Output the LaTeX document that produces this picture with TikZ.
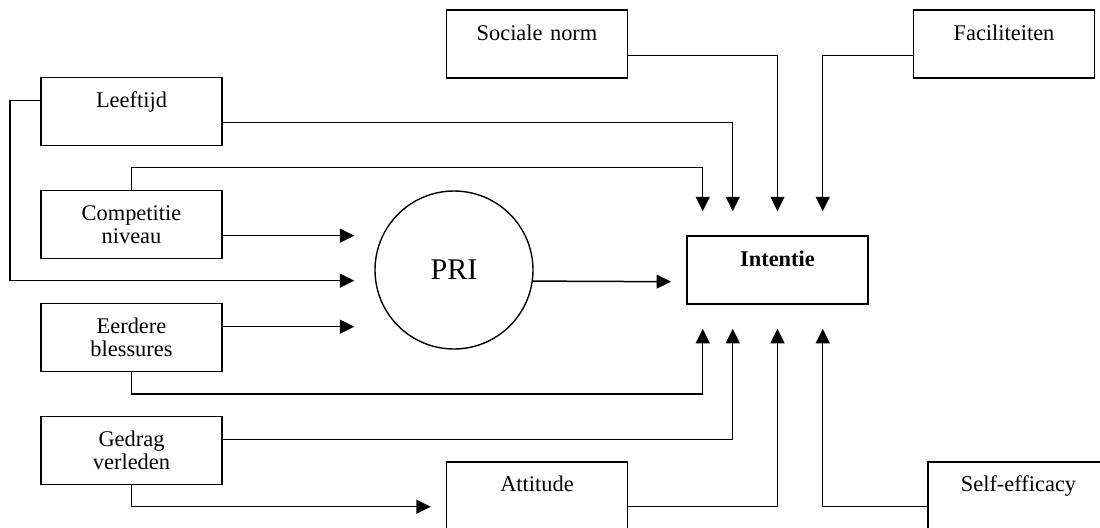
\documentclass[tikz,border=0pt]{standalone}
\usepackage{fontspec}
\setmainfont{Liberation Serif}
\usetikzlibrary{arrows.meta,positioning,calc,shapes}
\tikzstyle{box} = [rectangle, draw=black, line width=0.85pt, minimum width=90.5pt, minimum height=34pt, text width=86pt, inner sep=0pt, align=center, font=\fontsize{11.2}{11.7}\selectfont]
\tikzstyle{bubble} = [circle, draw=black, line width=0.7pt, minimum size=79pt, inner sep=0pt, font=\fontsize{15}{17}\selectfont]
\tikzstyle{arrow} = [line width=0.75pt, -{Triangle[length=7.2pt,width=7pt]}]

\begin{document}
\begin{tikzpicture}[node distance=56.5pt]
\useasboundingbox (0,0) rectangle (550pt,-263.5pt);

% left column
\node (leeftijd) [box] at (65.75pt,-55.75pt) {Leeftijd\\~};
\node (competitie) [box, below of=leeftijd] {Competitie\\niveau};
\node (eerdere) [box, below of=competitie] {Eerdere\\blessures};
\node (gedrag) [box, below of=eerdere] {Gedrag\\verleden};

\node (pri) [bubble] at (227pt,-135pt) {PRI};
\node (intentie) [box] at (388.75pt,-135pt) {\textbf{Intentie}\\~};

% top and bottom row
\node (sociale) [box] at (268.5pt,-22pt) {Sociale norm\\~};
\node (faciliteiten) [box] at (502pt,-22pt) {Faciliteiten\\~};
\node (attitude) [box] at (268.5pt,-247.85pt) {Attitude\\~};
\node (selfeff) [box] at (509.25pt,-247.85pt) {Self-efficacy\\~};

% arrow tips round Intentie and PRI
\coordinate (t1) at ([xshift=-37.4pt,yshift=12pt]intentie.north);
\coordinate (t2) at ([xshift=-22.4pt,yshift=12pt]intentie.north);
\coordinate (t3) at ([yshift=12pt]intentie.north);
\coordinate (t4) at ([xshift=22.6pt,yshift=12pt]intentie.north);
\coordinate (b1) at ([xshift=-37.4pt,yshift=-12pt]intentie.south);
\coordinate (b2) at ([xshift=-22.4pt,yshift=-12pt]intentie.south);
\coordinate (b3) at ([yshift=-12pt]intentie.south);
\coordinate (b4) at ([xshift=22.6pt,yshift=-12pt]intentie.south);
\coordinate (p1) at ([xshift=-10pt,yshift=17.15pt]pri.west);
\coordinate (p2) at ([xshift=-10pt,yshift=-5.35pt]pri.west);
\coordinate (p3) at ([xshift=-10pt,yshift=-28.35pt]pri.west);
\coordinate (i1) at ([xshift=-7.6pt,yshift=-5.85pt]intentie.west);
\coordinate (a1) at ([xshift=-7.5pt,yshift=-5.5pt]attitude.west);

\draw [arrow] ([yshift=-5.6pt]leeftijd.east) -| (t2);
\draw [arrow] ([yshift=5.4pt]leeftijd.west) -- ++(-15pt,0) |- (p2);
\draw [arrow] (competitie.north) -- ++(0,11.2pt) -| (t1);
\draw [arrow] ([yshift=-5.6pt]competitie.east) -- (p1);
\draw [arrow] ([yshift=5.4pt]eerdere.east) -- (p3);
\draw [arrow] (eerdere.south) -- ++(0,-10.9pt) -| (b1);
\draw [arrow] ([yshift=5.5pt]gedrag.east) -| (b2);
\draw [arrow] (gedrag.south) |- (a1);
\draw [arrow] (pri.-8.5) -- (i1);
\draw [arrow] ([yshift=-5.5pt]attitude.east) -| (b3);
\draw [arrow] ([yshift=-5.5pt]selfeff.west) -| (b4);
\draw [arrow] ([yshift=-5.65pt]sociale.east) -| (t3);
\draw [arrow] ([yshift=-5.65pt]faciliteiten.west) -| (t4);
\end{tikzpicture}
\end{document}
